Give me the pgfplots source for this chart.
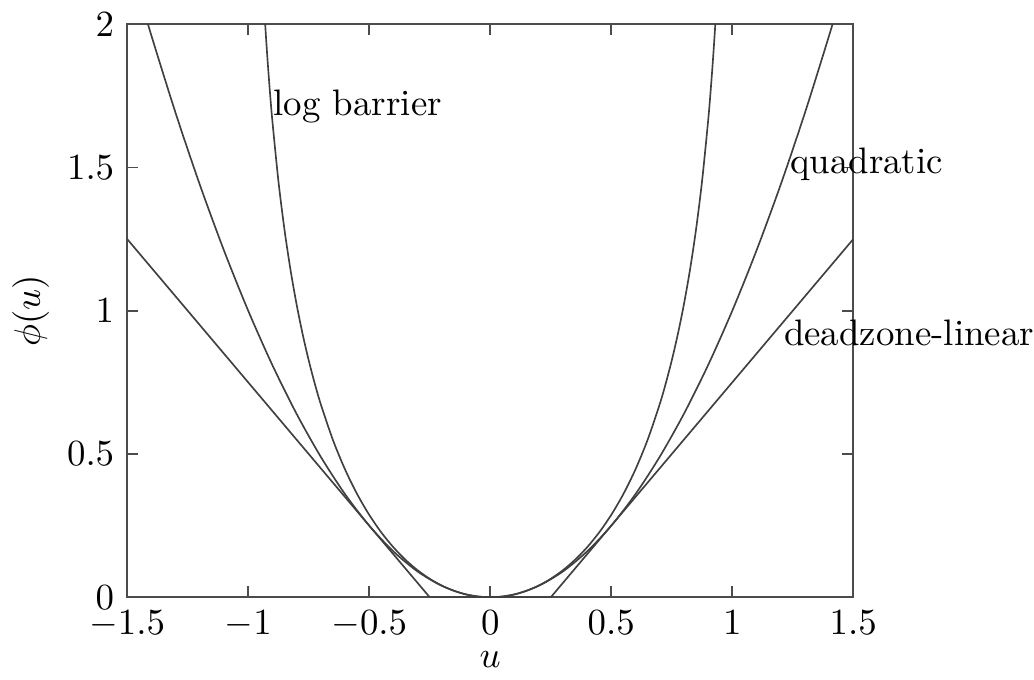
\documentclass[border=0pt]{standalone}
\usepackage{pgfplots}
\pgfplotsset{compat=1.18}
\begin{document}
\begin{tikzpicture}
\begin{axis}[
  scale only axis,
  width=197pt, height=155.5pt,
  xmin=-1.5, xmax=1.5, ymin=0, ymax=2,
  xtick={-1.5,-1,-0.5,0,0.5,1,1.5},
  ytick={0,0.5,1,1.5,2},
  tick align=inside,
  major tick length=3pt,
  axis line style={black!70, line width=0.5pt},
  tick style={black!70, line width=0.5pt},
  xlabel={$u$}, ylabel={$\phi(u)$},
  xlabel style={yshift=3pt},
  ylabel style={yshift=-2pt},
  clip mode=individual,
  /pgf/number format/fixed,
]
\addplot[smooth, black!75, line width=0.45pt] coordinates {
(-1.45,2.1025)(-1.4,1.96)(-1.3,1.69)(-1.2,1.44)(-1.1,1.21)(-1.0,1.0)(-0.9,0.81)(-0.8,0.64)(-0.7,0.49)(-0.6,0.36)(-0.5,0.25)(-0.4,0.16)(-0.3,0.09)(-0.2,0.04)(-0.1,0.01)(0,0)
(0.1,0.01)(0.2,0.04)(0.3,0.09)(0.4,0.16)(0.5,0.25)(0.6,0.36)(0.7,0.49)(0.8,0.64)(0.9,0.81)(1.0,1.0)(1.1,1.21)(1.2,1.44)(1.3,1.69)(1.4,1.96)(1.45,2.1025)
};
\addplot[black!75, line width=0.45pt] coordinates {(-1.5,1.25)(-0.25,0)(0.25,0)(1.5,1.25)};
\addplot[smooth, black!75, line width=0.45pt] coordinates {
(-0.94,2.15072)(-0.93,2.00174)(-0.92,1.87340)(-0.91,1.76085)(-0.9,1.66073)(-0.875,1.45083)(-0.85,1.28194)(-0.825,1.14139)(-0.8,1.02165)(-0.775,0.917855)(-0.75,0.82668)(-0.725,0.745757)(-0.7,0.67334)(-0.65,0.549047)(-0.6,0.44629)(-0.55,0.360253)(-0.5,0.287682)(-0.45,0.226274)(-0.4,0.174353)(-0.35,0.130678)(-0.3,0.094311)(-0.25,0.064539)(-0.2,0.040822)(-0.15,0.022757)(-0.1,0.010050)(-0.05,0.002503)(0,0)
(0.05,0.002503)(0.1,0.010050)(0.15,0.022757)(0.2,0.040822)(0.25,0.064539)(0.3,0.094311)(0.35,0.130678)(0.4,0.174353)(0.45,0.226274)(0.5,0.287682)(0.55,0.360253)(0.6,0.44629)(0.65,0.549047)(0.7,0.67334)(0.725,0.745757)(0.75,0.82668)(0.775,0.917855)(0.8,1.02165)(0.825,1.14139)(0.85,1.28194)(0.875,1.45083)(0.9,1.66073)(0.91,1.76085)(0.92,1.87340)(0.93,2.00174)(0.94,2.15072)
};
\node[anchor=base west, inner sep=0pt] at (axis cs:-0.898,1.68) {log barrier};
\node[anchor=base west, inner sep=0pt] at (axis cs:1.236,1.478) {quadratic};
\node[anchor=base west, inner sep=0pt] at (axis cs:1.211,0.877) {deadzone-linear};
\end{axis}
\end{tikzpicture}
\end{document}
